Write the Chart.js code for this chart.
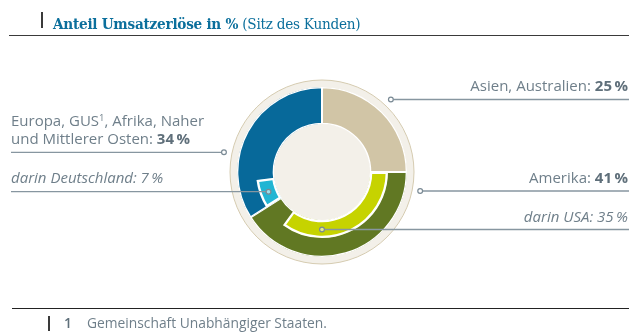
<!DOCTYPE html>
<html lang="de">
<head>
<meta charset="utf-8">
<title>Anteil Umsatzerlöse in % (Sitz des Kunden)</title>
<script src="https://cdn.jsdelivr.net/npm/chart.js@4/dist/chart.umd.min.js"></script>
<style>
  html, body { margin: 0; padding: 0; background: #fff; }
  #wrap { position: relative; width: 629px; height: 336px; overflow: hidden;
          font-family: "Open Sans", "Noto Sans", sans-serif; color: #6f7f8a; }
  #wrap canvas { position: absolute; left: 0; top: 0; }
  .rule { position: absolute; background: #3a3a3a; }
  .title { position: absolute; left: 53px; top: 13.5px; white-space: nowrap;
           font-family: "DejaVu Serif", serif; font-size: 15.5px; line-height: 20px;
           color: #0b6f9c; letter-spacing: -0.3px;
           transform: scaleX(0.88); transform-origin: 0 50%; }
  .title b { font-weight: 700; }
  .title span { font-weight: 400; }
  .lbl { position: absolute; white-space: nowrap; font-size: 15px; line-height: 18.4px; }
  .lbl b { font-weight: 700; color: #5f6f7a; }
  .right { right: 1px; text-align: right; }
  .left { left: 11px; }
  .it { font-style: italic; }
  .foot { position: absolute; top: 314px; left: 64px; font-size: 13.8px; line-height: 18px;
          white-space: nowrap; color: #6f7f8a; }
  .foot .num { display: inline-block; width: 23px; font-weight: 600; color: #5f6f7a; }
</style>
</head>
<body>
<div id="wrap">
  <canvas id="rings" width="629" height="336"></canvas>
  <canvas id="detail" width="629" height="336"></canvas>

  <div class="rule" style="left:41px; top:12px; width:1.5px; height:16px;"></div>
  <div class="title"><b>Anteil Umsatzerlöse in %</b> <span>(Sitz des Kunden)</span></div>
  <div class="rule" style="left:9px; top:34.5px; width:620px; height:1.5px;"></div>

  <div class="lbl right" style="top:75.5px;">Asien, Australien: <b>25&#8201;%</b></div>
  <div class="lbl right" style="top:168px;">Amerika: <b>41&#8201;%</b></div>
  <div class="lbl right it" style="top:206.5px;">darin USA: 35&#8201;%</div>

  <div class="lbl left" style="top:110.5px;">Europa, GUS<sup style="font-size:9.5px; vertical-align:5px; line-height:0;">1</sup>, Afrika, Naher<br>und Mittlerer Osten: <b>34&#8201;%</b></div>
  <div class="lbl left it" style="top:168px;">darin Deutschland: 7&#8201;%</div>

  <div class="rule" style="left:12px; top:308px; width:617px; height:1px; background:#222;"></div>
  <div class="rule" style="left:48px; top:316px; width:1.5px; height:15px;"></div>
  <div class="foot"><span class="num">1</span>Gemeinschaft Unabhängiger Staaten.</div>
</div>

<script>
// Umsatzanteile nach Regionen (Sitz des Kunden), in %
const regions = ['Asien, Australien', 'Amerika', 'Europa, GUS, Afrika, Naher und Mittlerer Osten'];
const regionShares = [25, 41, 34];

// Innerer Ring: hervorgehobene Länder innerhalb ihrer Region
const countries = ['Asien, Australien', 'darin USA', 'Amerika übrige', 'darin Deutschland', 'Europa übrige'];
const countryShares = [25, 35, 41 - 35, 7, 34 - 7];

const colors = {
  asia: '#d1c5a6',
  america: '#617823',
  europe: '#07699a',
  usa: '#c6d300',
  germany: '#22b5d3',
  disc: '#f3f0e9',
  discEdge: '#d5cbb0',
  leader: '#8796a0'
};

// Leader-Linien: Zeilenhöhe der Beschriftung, Seite und Ankerart
const leaders = [
  { y: 99.5,  side: 'right', anchor: 'rim' },   // Asien, Australien
  { y: 191,   side: 'right', anchor: 'rim' },   // Amerika
  { y: 229.5, side: 'right', anchor: 'inner' }, // darin USA
  { y: 152.3, side: 'left',  anchor: 'rim' },   // Europa, GUS ...
  { y: 191.7, side: 'left',  anchor: 'inner' }  // darin Deutschland
];

const OUTER_R = 85;
const MID_R = 66;
const INNER_R = 48;
const layoutPadding = { left: 15, right: 0, top: 8, bottom: 0 };

// Cremefarbene Scheibe hinter dem Ring
const discPlugin = {
  id: 'disc',
  beforeDatasetsDraw(chart) {
    const arc = chart.getDatasetMeta(0).data[0];
    const ctx = chart.ctx;
    ctx.save();
    ctx.beginPath();
    ctx.arc(arc.x, arc.y, arc.outerRadius + 7, 0, Math.PI * 2);
    ctx.fillStyle = colors.disc;
    ctx.fill();
    ctx.lineWidth = 1;
    ctx.strokeStyle = colors.discEdge;
    ctx.stroke();
    ctx.restore();
  }
};

const outerRadiusPx = OUTER_R;

// Verbindungslinien von den Beschriftungen zum Ring
const leaderPlugin = {
  id: 'leaders',
  afterDatasetsDraw(chart) {
    const arc = chart.getDatasetMeta(0).data[0];
    const cx = arc.x, cy = arc.y;
    const midInner = (arc.innerRadius + arc.outerRadius) / 2;
    const rimR = outerRadiusPx + 15;
    const ctx = chart.ctx;
    ctx.save();
    leaders.forEach(l => {
      const r = l.anchor === 'rim' ? rimR : midInner;
      const dy = l.y - cy;
      const dx = Math.sqrt(Math.max(r * r - dy * dy, 0));
      const px = l.side === 'right' ? cx + dx : cx - dx;
      const endX = l.side === 'right' ? chart.width : 11;
      ctx.beginPath();
      ctx.moveTo(l.side === 'right' ? px + 2.5 : endX, l.y);
      ctx.lineTo(l.side === 'right' ? endX : px - 2.5, l.y);
      ctx.lineWidth = 1.3;
      ctx.strokeStyle = colors.leader;
      ctx.stroke();
      ctx.beginPath();
      ctx.arc(px, l.y, 2.4, 0, Math.PI * 2);
      ctx.fillStyle = 'rgba(255,255,255,0.55)';
      ctx.fill();
      ctx.lineWidth = 1.2;
      ctx.strokeStyle = '#7a8a95';
      ctx.stroke();
    });
    ctx.restore();
  }
};

const common = {
  responsive: false,
  animation: false,
  devicePixelRatio: 1,
  events: [],
  layout: { padding: layoutPadding },
  plugins: { legend: { display: false }, tooltip: { enabled: false }, title: { display: false } }
};

// Äußerer Ring: Regionen über die volle Ringbreite
new Chart(document.getElementById('rings'), {
  type: 'doughnut',
  data: {
    labels: regions,
    datasets: [{
      data: regionShares,
      backgroundColor: [colors.asia, colors.america, colors.europe],
      borderColor: '#ffffff',
      borderWidth: 1,
      borderAlign: 'inner',
      radius: OUTER_R,
      cutout: (INNER_R / OUTER_R * 100) + '%'
    }]
  },
  options: common,
  plugins: [discPlugin]
});

// Innerer Ring: USA und Deutschland über ihrer Region
new Chart(document.getElementById('detail'), {
  type: 'doughnut',
  data: {
    labels: countries,
    datasets: [{
      data: countryShares,
      backgroundColor: ['rgba(0,0,0,0)', colors.usa, 'rgba(0,0,0,0)', colors.germany, 'rgba(0,0,0,0)'],
      borderColor: '#ffffff',
      borderWidth: [0, 2, 0, 2, 0],
      borderAlign: 'inner',
      radius: MID_R,
      cutout: (INNER_R / MID_R * 100) + '%'
    }]
  },
  options: common,
  plugins: [leaderPlugin]
});
</script>
</body>
</html>
